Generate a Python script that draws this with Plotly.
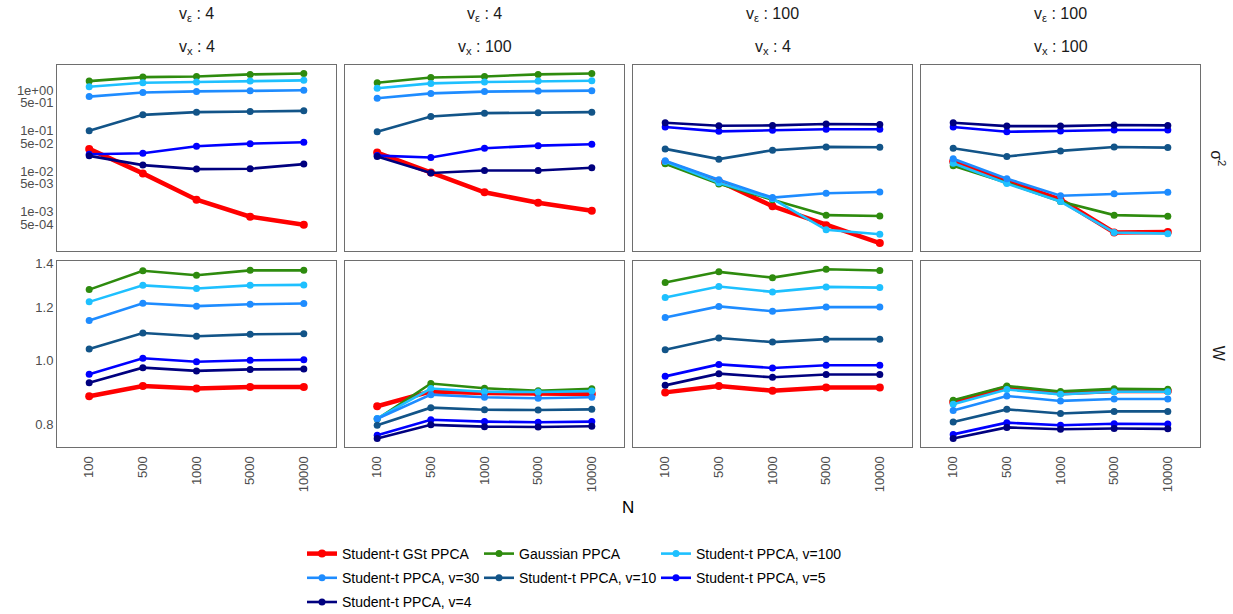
import plotly.graph_objects as go

N_labels = ["100", "500", "1000", "5000", "10000"]

series_names = ["Student-t GSt PPCA", "Gaussian PPCA", "Student-t PPCA, v=100",
                "Student-t PPCA, v=30", "Student-t PPCA, v=10", "Student-t PPCA, v=5",
                "Student-t PPCA, v=4"]
series_colors = ["#FF0000", "#2E8B0E", "#1EC0FF", "#1E8CFF", "#125488", "#0000FF", "#00007F"]
# legend column each series goes into (legend is laid out by rows of three)
series_legend = ["legend", "legend2", "legend3", "legend", "legend2", "legend3", "legend"]

strip_top = ["v<sub>ε</sub> : 4", "v<sub>ε</sub> : 4", "v<sub>ε</sub> : 100", "v<sub>ε</sub> : 100"]
strip_bottom = ["v<sub>x</sub> : 4", "v<sub>x</sub> : 100", "v<sub>x</sub> : 4", "v<sub>x</sub> : 100"]
row_labels = ["σ<sup>2</sup>", "W"]

# sigma^2 estimates, one list per panel (v_eps/v_x: 4/4, 4/100, 100/4, 100/100)
sigma2_gst = [[0.0358, 0.0089, 0.0020, 0.00076, 0.00048],
              [0.0291, 0.0094, 0.00304, 0.00167, 0.00106],
              [0.0166, 0.0057, 0.00138, 0.00047, 0.00017],
              [0.0175, 0.0057, 0.0020, 0.00031, 0.00032]]
sigma2_gauss = [[1.69, 2.12, 2.20, 2.47, 2.61],
                [1.54, 2.08, 2.20, 2.47, 2.61],
                [0.0154, 0.0049, 0.0020, 0.00083, 0.00079],
                [0.0137, 0.0052, 0.0018, 0.00083, 0.00078]]
sigma2_t100 = [[1.23, 1.54, 1.60, 1.69, 1.76],
               [1.12, 1.48, 1.60, 1.69, 1.73],
               [0.0175, 0.0052, 0.0021, 0.00036, 0.00028],
               [0.0159, 0.0050, 0.0018, 0.00031, 0.00029]]
sigma2_t30 = [[0.70, 0.88, 0.94, 0.98, 1.0],
              [0.64, 0.84, 0.93, 0.96, 0.98],
              [0.0182, 0.0062, 0.00225, 0.00288, 0.0031],
              [0.0204, 0.0066, 0.0025, 0.00278, 0.00304]]
sigma2_t10 = [[0.101, 0.248, 0.289, 0.30, 0.311],
              [0.095, 0.226, 0.273, 0.279, 0.289],
              [0.0358, 0.0200, 0.0333, 0.0401, 0.0394],
              [0.037, 0.0232, 0.032, 0.040, 0.0385]]
sigma2_t5 = [[0.0265, 0.028, 0.0417, 0.0483, 0.0522],
             [0.0245, 0.0219, 0.0372, 0.0431, 0.0467],
             [0.124, 0.097, 0.103, 0.109, 0.109],
             [0.124, 0.095, 0.099, 0.105, 0.105]]
sigma2_t4 = [[0.0241, 0.01426, 0.01137, 0.01158, 0.0151],
             [0.0232, 0.0091, 0.0105, 0.0105, 0.0123],
             [0.158, 0.133, 0.136, 0.147, 0.144],
             [0.158, 0.131, 0.131, 0.139, 0.136]]

# W estimates
w_gst = [[0.883, 0.915, 0.907, 0.912, 0.912],
         [0.853, 0.898, 0.893, 0.890, 0.890],
         [0.895, 0.915, 0.900, 0.910, 0.910],
         [0.866, 0.910, 0.892, 0.899, 0.899]]
w_gauss = [[1.277, 1.363, 1.342, 1.365, 1.365],
           [0.816, 0.923, 0.908, 0.900, 0.906],
           [1.309, 1.358, 1.331, 1.370, 1.364],
           [0.871, 0.915, 0.898, 0.906, 0.905]]
w_t100 = [[1.224, 1.296, 1.282, 1.296, 1.298],
          [0.818, 0.907, 0.897, 0.896, 0.899],
          [1.243, 1.291, 1.267, 1.289, 1.286],
          [0.859, 0.904, 0.889, 0.897, 0.897]]
w_t30 = [[1.148, 1.218, 1.206, 1.214, 1.217],
         [0.817, 0.888, 0.880, 0.877, 0.880],
         [1.160, 1.205, 1.185, 1.202, 1.202],
         [0.841, 0.884, 0.869, 0.875, 0.875]]
w_t10 = [[1.04, 1.099, 1.087, 1.094, 1.096],
         [0.799, 0.849, 0.843, 0.842, 0.844],
         [1.037, 1.080, 1.065, 1.076, 1.076],
         [0.808, 0.844, 0.832, 0.838, 0.838]]
w_t5 = [[0.953, 1.007, 0.995, 1.0, 1.002],
        [0.772, 0.814, 0.809, 0.807, 0.809],
        [0.946, 0.986, 0.974, 0.983, 0.983],
        [0.774, 0.806, 0.799, 0.803, 0.802]]
w_t4 = [[0.925, 0.975, 0.964, 0.969, 0.970],
        [0.763, 0.800, 0.795, 0.794, 0.796],
        [0.917, 0.955, 0.943, 0.952, 0.952],
        [0.763, 0.793, 0.788, 0.790, 0.789]]

sigma2_tick_vals = [1, 0.5, 0.1, 0.05, 0.01, 0.005, 0.001, 0.0005]
sigma2_tick_text = ["1e+00", "5e-01", "1e-01", "5e-02", "1e-02", "5e-03", "1e-03", "5e-04"]
w_tick_vals = [0.8, 1.0, 1.2, 1.4]
w_tick_text = ["0.8", "1.0", "1.2", "1.4"]

sigma2_all = [sigma2_gst, sigma2_gauss, sigma2_t100, sigma2_t30, sigma2_t10, sigma2_t5, sigma2_t4]
w_all = [w_gst, w_gauss, w_t100, w_t30, w_t10, w_t5, w_t4]

FONT = "Liberation Sans, Arial, sans-serif"
W_PX, H_PX = 1233, 614
ML, MR, MT, MB = 57, 33, 65, 167
PW = W_PX - ML - MR
PH = H_PX - MT - MB
gap_x = 9
panel_w = (PW - 3 * gap_x) / 4
gap_y = 9.3
panel_h = (PH - gap_y) / 2


def px_x(x):
    return (x - ML) / PW


def px_y(y):
    return 1 - (y - MT) / PH


fig = go.Figure()
layout = {}

for r, (row_data, tvals, ttext) in enumerate([(sigma2_all, sigma2_tick_vals, sigma2_tick_text),
                                              (w_all, w_tick_vals, w_tick_text)]):
    if r == 0:
        yrange = [-3.975, 0.625]
        ydom = [(panel_h + gap_y) / PH, 1.0]
    else:
        yrange = [-0.1302, 0.1497]
        ydom = [0.0, panel_h / PH]
    for c in range(4):
        k = r * 4 + c + 1
        sfx = "" if k == 1 else str(k)
        x0 = c * (panel_w + gap_x)
        layout["xaxis" + sfx] = dict(
            domain=[x0 / PW, (x0 + panel_w) / PW], anchor="y" + sfx,
            type="category", range=[-0.6, 4.6], categoryorder="array", categoryarray=N_labels,
            showgrid=False, zeroline=False, showline=True, mirror=True,
            linecolor="#6E6E6E", linewidth=1, ticks="",
            showticklabels=(r == 1), tickangle=-90, ticklabelstandoff=3,
            tickfont=dict(family=FONT, size=13, color="#4D4D4D"))
        layout["yaxis" + sfx] = dict(
            domain=ydom, anchor="x" + sfx, type="log", range=yrange,
            showgrid=False, zeroline=False, showline=True, mirror=True,
            linecolor="#6E6E6E", linewidth=1, ticks="",
            tickvals=tvals, ticktext=ttext, showticklabels=(c == 0),
            tickfont=dict(family=FONT, size=13, color="#4D4D4D"))
        for s in range(len(series_names)):
            is_red = s == 0
            fig.add_trace(go.Scatter(
                x=N_labels, y=row_data[s][c], mode="lines+markers",
                name=series_names[s], legendgroup=series_names[s],
                legend=series_legend[s],
                showlegend=(k == 1),
                line=dict(color=series_colors[s], width=4.5 if is_red else 2.6),
                marker=dict(color=series_colors[s], size=8 if is_red else 7),
                xaxis="x" + sfx, yaxis="y" + sfx))

annotations = []
for c in range(4):
    cx = (c * (panel_w + gap_x) + panel_w / 2) / PW
    annotations.append(dict(text=strip_top[c], x=cx, y=px_y(15), xref="paper", yref="paper",
                            xanchor="center", yanchor="middle", showarrow=False,
                            font=dict(family=FONT, size=16, color="#1A1A1A")))
    annotations.append(dict(text=strip_bottom[c], x=cx, y=px_y(47), xref="paper", yref="paper",
                            xanchor="center", yanchor="middle", showarrow=False,
                            font=dict(family=FONT, size=16, color="#1A1A1A")))
for r in range(2):
    cy = 1 - (panel_h / 2) / PH if r == 0 else (panel_h / 2) / PH
    annotations.append(dict(text=row_labels[r], x=px_x(1218), y=cy, xref="paper", yref="paper",
                            xanchor="center", yanchor="middle", showarrow=False, textangle=90,
                            font=dict(family=FONT, size=16, color="#1A1A1A")))
annotations.append(dict(text="N", x=px_x(628), y=px_y(507), xref="paper", yref="paper",
                        xanchor="center", yanchor="middle", showarrow=False,
                        font=dict(family=FONT, size=17, color="#000000")))

legend_common = dict(orientation="v", xanchor="left", yanchor="top", y=px_y(538),
                     tracegroupgap=3, itemwidth=30, traceorder="grouped",
                     font=dict(family=FONT, size=14, color="#000000"),
                     bgcolor="rgba(0,0,0,0)")
legend_lefts = [302, 479, 656]

fig.update_layout(
    **layout,
    annotations=annotations,
    width=W_PX, height=H_PX,
    margin=dict(l=ML, r=MR, t=MT, b=MB, autoexpand=False),
    paper_bgcolor="white", plot_bgcolor="white",
    font=dict(family=FONT),
    showlegend=True,
    legend=dict(x=px_x(legend_lefts[0]), **legend_common),
    legend2=dict(x=px_x(legend_lefts[1]), **legend_common),
    legend3=dict(x=px_x(legend_lefts[2]), **legend_common),
)

fig.write_html("out.html")
